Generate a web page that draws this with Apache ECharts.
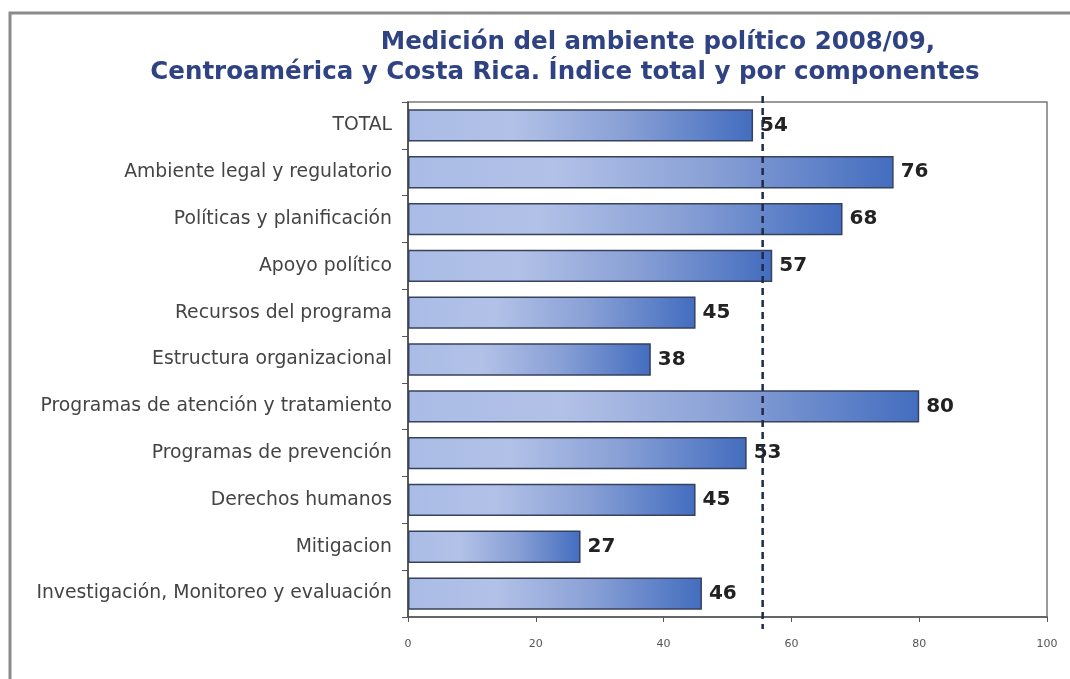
<!DOCTYPE html>
<html>
<head>
<meta charset="utf-8">
<style>
  html, body { margin: 0; padding: 0; background: #ffffff; }
  #chart { width: 1070px; height: 679px; }
</style>
<script src="https://cdn.jsdelivr.net/npm/echarts@6/dist/echarts.min.js"></script>
</head>
<body>
<div id="chart"></div>
<script>
// Component names, top to bottom
const categories = [
  'TOTAL',
  'Ambiente legal y regulatorio',
  'Políticas y planificación',
  'Apoyo político',
  'Recursos del programa',
  'Estructura organizacional',
  'Programas de atención y tratamiento',
  'Programas de prevención',
  'Derechos humanos',
  'Mitigacion',
  'Investigación, Monitoreo y evaluación'
];

// Index values (0-100) for Costa Rica
const values = [54, 76, 68, 57, 45, 38, 80, 53, 45, 27, 46];

// Regional reference level (Centroamérica)
const regionalAverage = 55.5;

// X axis scale
const axisMin = 0;
const axisMax = 100;
const axisStep = 20;

const titleLines = [
  'Medición del ambiente político 2008/09,',
  'Centroamérica y Costa Rica. Índice total y por componentes'
];

const chart = echarts.init(document.getElementById('chart'), null, { renderer: 'canvas' });

const barFill = new echarts.graphic.LinearGradient(0, 0, 1, 0, [
  { offset: 0, color: '#aabce6' },
  { offset: 0.3, color: '#b2c1e7' },
  { offset: 0.62, color: '#8aa1d6' },
  { offset: 1, color: '#436dbf' }
]);

const titleStyle = {
  fontFamily: 'DejaVu Sans',
  fontWeight: 'bold',
  fontSize: 24.5,
  color: '#2f4282'
};

chart.setOption({
  animation: false,
  graphic: [
    {
      type: 'rect',
      id: 'frame',
      silent: true,
      z: -10,
      shape: { x: 10, y: 13, width: 1200, height: 800 },
      style: { fill: 'none', stroke: '#8a8a8a', lineWidth: 3 }
    }
  ],
  title: [
    { text: titleLines[0], left: 653, top: 25, textAlign: 'center', textStyle: titleStyle },
    { text: titleLines[1], left: 560, top: 55, textAlign: 'center', textStyle: titleStyle }
  ],
  grid: {
    left: 408,
    right: 23,
    top: 102,
    bottom: 62,
    show: true,
    borderColor: '#7a7a7a',
    borderWidth: 1.5,
    backgroundColor: 'transparent'
  },
  xAxis: {
    type: 'value',
    min: axisMin,
    max: axisMax,
    interval: axisStep,
    axisLine: { show: true, lineStyle: { color: '#555', width: 1.5 } },
    axisTick: { show: true, length: 5, lineStyle: { color: '#555' } },
    splitLine: { show: false },
    axisLabel: {
      margin: 22,
      fontFamily: 'DejaVu Sans',
      fontSize: 11,
      color: '#555'
    }
  },
  yAxis: {
    type: 'category',
    inverse: true,
    data: categories,
    axisLine: { show: true, lineStyle: { color: '#444', width: 1.5 } },
    axisTick: { show: true, length: 6, lineStyle: { color: '#555' } },
    axisLabel: {
      margin: 16,
      fontFamily: 'DejaVu Sans',
      fontSize: 18.8,
      color: '#444'
    }
  },
  series: [
    {
      type: 'bar',
      data: values,
      barCategoryGap: '31%',
      itemStyle: {
        color: barFill,
        borderColor: '#37425e',
        borderWidth: 1.5
      },
      label: {
        show: true,
        position: 'right',
        distance: 7,
        fontFamily: 'DejaVu Sans',
        fontWeight: 'bold',
        fontSize: 20,
        color: '#222'
      }
    }
  ]
});

// Dashed regional-average line, placed through the value axis scale and
// running slightly past the plot frame at both ends
const avgX = chart.convertToPixel({ xAxisIndex: 0 }, regionalAverage);
const gridRect = chart.getModel().getComponent('grid').coordinateSystem.getRect();
chart.setOption({
  graphic: [
    {
      type: 'line',
      id: 'avgLine',
      silent: true,
      z: 100,
      shape: { x1: avgX, y1: gridRect.y - 6, x2: avgX, y2: gridRect.y + gridRect.height + 12 },
      style: { stroke: '#1f2a4a', lineWidth: 2.5, lineDash: [7, 5] }
    }
  ]
});
</script>
</body>
</html>
